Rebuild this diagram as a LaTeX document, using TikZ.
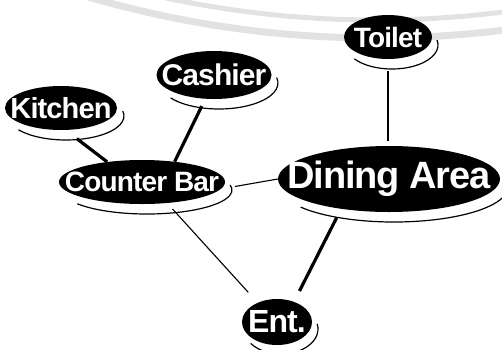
\documentclass[tikz,border=0pt]{standalone}
\usepackage{fontspec}
\setmainfont{Liberation Sans}
\usetikzlibrary{shapes.geometric,calc}
\definecolor{wmgray}{HTML}{E2E2E2}
\tikzset{
  blob/.style={ellipse, fill=black, inner sep=0pt},
  nodetext/.style={text=white, font=\bfseries\fontsize{#1}{#1}\selectfont\addfontfeatures{LetterSpace=-3}, inner sep=0pt},
  thickline/.style={line width=3.2pt},
  thinline/.style={line width=1.1pt},
  rimline/.style={line width=1.2pt},
  wmline/.style={wmgray, line width=#1},
}
% rim: node, x radius, y radius, dx, dy
\newcommand\rimarc[5]{%
  \draw[rimline] ($(#1.center)+(#4,#5)$) ++(215:#2 and #3)
    arc[start angle=215, end angle=372, x radius=#2, y radius=#3];}
\begin{document}
\begin{tikzpicture}[x=1pt,y=1pt]
\useasboundingbox (0,0) rectangle (502,-349);
% watermark arcs
\begin{scope}
  \clip (0,0) rectangle (502,-349);
  \draw[wmline=7pt] (376,990) ++(250:1028) arc[start angle=250, end angle=290, radius=1028];
  \draw[wmline=5pt] (376,990) ++(250:1010) arc[start angle=250, end angle=290, radius=1010];
\end{scope}
% nodes
\node[blob, minimum width=112pt, minimum height=44pt,
      label={[nodetext=29]center:Kitchen}] (kitchen) at (61,-108) {};
\node[blob, minimum width=115pt, minimum height=48pt,
      label={[nodetext=30]center:Cashier}] (cashier) at (214,-75) {};
\node[blob, minimum width=88pt, minimum height=44pt,
      label={[nodetext=28]center:Toilet}] (toilet) at (388,-37) {};
\node[blob, minimum width=166pt, minimum height=44pt,
      label={[nodetext=28]center:Counter Bar}] (counter) at (142,-182) {};
\node[blob, minimum width=222pt, minimum height=66pt,
      label={[nodetext=38]center:Dining Area}] (dining) at (389,-179) {};
\node[blob, minimum width=70pt, minimum height=46pt,
      label={[nodetext=32]center:Ent.}] (ent) at (277,-322) {};
% rims
\rimarc{kitchen}{58}{24}{5}{-8}
\rimarc{cashier}{59}{26}{5}{-8}
\rimarc{toilet}{46}{24}{4}{-8}
\rimarc{counter}{85}{24}{5}{-8}
\rimarc{dining}{114}{35}{5}{-8}
\rimarc{ent}{37}{25}{4}{-7}
% connectors
\draw[thickline, shorten <=14pt] (kitchen.-78) -- (counter.150);
\draw[thickline, shorten <=8pt] (cashier.250) -- (counter.32);
\draw[thinline, shorten <=12pt, shorten >=5pt] (toilet.south) -- (toilet.south |- dining.north);
\draw[thinline, shorten <=14pt] (counter.-5) -- (dining.west);
\draw[thickline, shorten <=10pt, shorten >=12pt] (dining.212) -- (ent.50);
\draw[thinline, shorten <=8pt, shorten >=14pt] (counter.-40) -- (ent.135);
\end{tikzpicture}
\end{document}
